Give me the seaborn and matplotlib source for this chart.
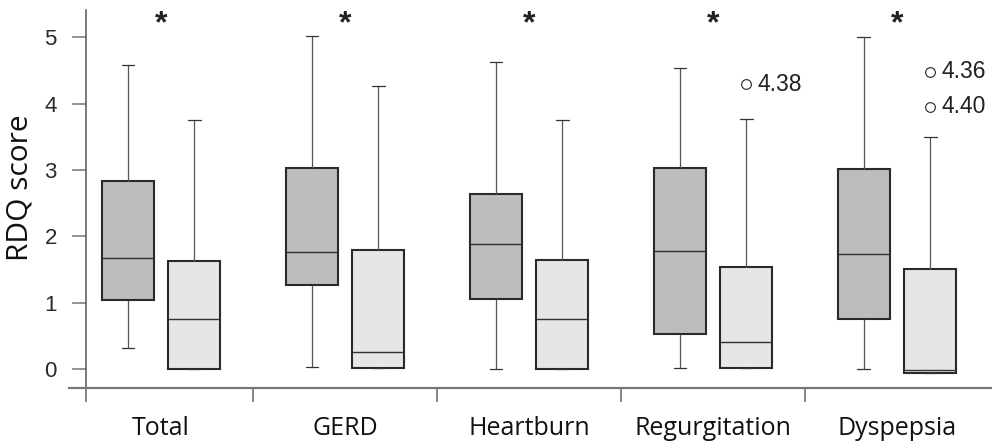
import matplotlib
matplotlib.use("Agg")
import matplotlib.pyplot as plt
import pandas as pd
import seaborn as sns

# RDQ score per symptom group (whisker low, Q1, median, Q3, whisker high)
categories = ["Total", "GERD", "Heartburn", "Regurgitation", "Dyspepsia"]

dark_low = [0.32, 0.03, 0.00, 0.02, 0.00]
dark_q1 = [1.04, 1.27, 1.06, 0.53, 0.75]
dark_med = [1.67, 1.77, 1.89, 1.78, 1.74]
dark_q3 = [2.83, 3.03, 2.64, 3.03, 3.01]
dark_high = [4.58, 5.02, 4.63, 4.53, 5.01]

light_low = [0.00, 0.01, 0.00, 0.02, -0.06]
light_q1 = [0.00, 0.01, 0.00, 0.02, -0.06]
light_med = [0.75, 0.26, 0.75, 0.41, -0.01]
light_q3 = [1.63, 1.79, 1.64, 1.53, 1.51]
light_high = [3.75, 4.27, 3.75, 3.77, 3.50]

light_outliers = [[], [], [], [4.29], [4.48, 3.95]]
outlier_text = [[], [], [], ["4.38"], ["4.36", "4.40"]]

groups = ["before", "after"]


def box_sample(lo, q1, med, q3, hi, outliers):
    # 17 values so that the linear quartiles fall exactly on q1 / median / q3
    vals = [lo] + [q1] * 4 + [med] * 4 + [q3] * 4
    vals += [hi] * (4 - len(outliers)) + list(outliers)
    return vals


rows = []
for i, cat in enumerate(categories):
    for v in box_sample(dark_low[i], dark_q1[i], dark_med[i], dark_q3[i], dark_high[i], []):
        rows.append((cat, groups[0], v))
    for v in box_sample(light_low[i], light_q1[i], light_med[i], light_q3[i], light_high[i],
                        light_outliers[i]):
        rows.append((cat, groups[1], v))
df = pd.DataFrame(rows, columns=["category", "group", "score"])

sns.set_style("ticks")
plt.rcParams["font.family"] = ["Liberation Sans", "DejaVu Sans"]

fig = plt.figure(figsize=(9.92, 4.48), dpi=100)
ax = fig.add_axes([86 / 992, 60 / 448, 906 / 992, 378 / 448])

width = 0.72
sns.boxplot(data=df, x="category", y="score", hue="group", order=categories,
            hue_order=groups, palette={"before": "#bcbdc0", "after": "#e5e6e8"},
            width=width, gap=0.22, linecolor="#2a2a2a", linewidth=1.5,
            legend=False, ax=ax,
            whiskerprops={"linewidth": 0.9, "color": "#555555"},
            capprops={"linewidth": 0.9, "color": "#333333"},
            medianprops={"linewidth": 1.0, "color": "#333333"},
            flierprops={"marker": "o", "markersize": 7, "markerfacecolor": "white",
                        "markeredgecolor": "#222222", "markeredgewidth": 0.8},
            capwidths=0.07)

ax.set_xlim(-0.408, 4.516)
ax.set_ylim(-0.286, 5.41)

# significance marks and outlier labels
for i, cat in enumerate(categories):
    ax.text(i, 5.19, "*", ha="center", va="center", fontsize=23, fontweight="bold",
            color="#222222")
    for val, lab in zip(light_outliers[i], outlier_text[i]):
        ax.annotate(lab, (i + width / 4, val), xytext=(8, 0), textcoords="offset points",
                    ha="left", va="center", fontsize=16.5, color="#222222")

ax.set_yticks(range(6))
ax.tick_params(axis="y", direction="out", length=10, width=1.1, color="#777777",
               labelsize=16, labelcolor="#2a2a2a", pad=11)

ax.set_xticks(range(len(categories)))
ax.set_xticklabels(categories, fontfamily="Open Sans", fontsize=18, color="#111111")
ax.tick_params(axis="x", which="major", length=0, pad=20)
ax.set_xticks([-0.408, 0.5, 1.5, 2.5, 3.5], minor=True)
ax.tick_params(axis="x", which="minor", direction="out", length=10, width=1.1,
               color="#666666")

ax.set_xlabel("")
ax.set_ylabel("RDQ score", fontfamily="Open Sans", fontsize=21.5, color="#111111")
ax.yaxis.set_label_coords(-0.057, 0.53)

sns.despine(ax=ax, top=True, right=True)
ax.spines["left"].set_color("#555555")
ax.spines["left"].set_linewidth(1.1)
ax.spines["bottom"].set_color("#777777")
ax.spines["bottom"].set_linewidth(1.6)
ax.spines["bottom"].set_bounds(-0.5, 4.516)

fig.savefig("out.png", dpi=100)
